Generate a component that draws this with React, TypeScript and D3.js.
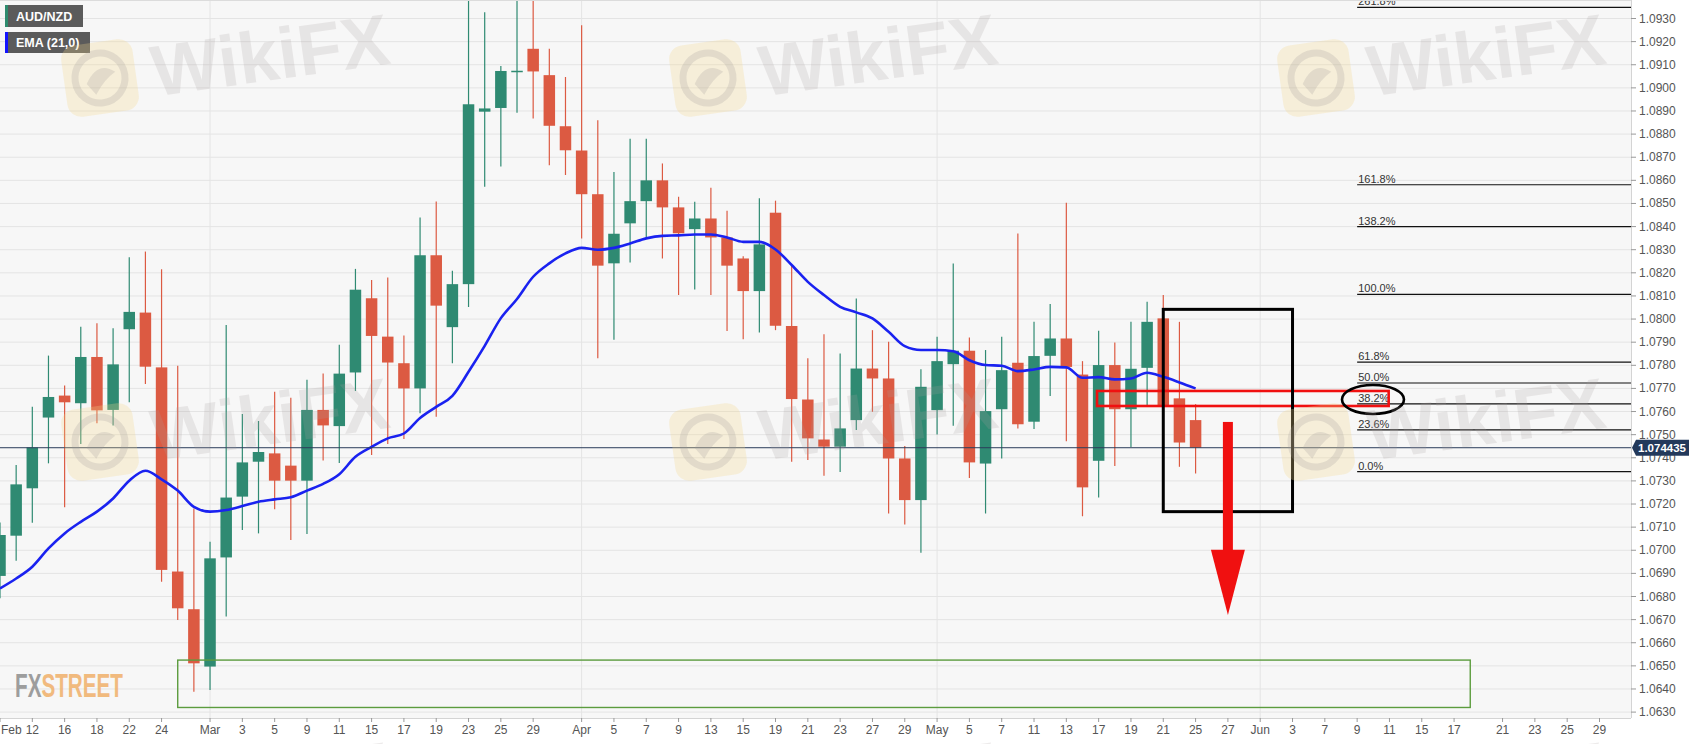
import React, { useEffect } from 'react';
import * as d3 from 'd3';

const W = 1707;
const H = 744;
const PLOT_RIGHT = 1631;
const PLOT_BOTTOM = 718;

// daily candles, trading-day index 0 = Feb 10
const opens = [
  1.06889, 1.07063, 1.07268, 1.07574, 1.07669, 1.07636, 1.07836, 1.07607, 1.07956, 1.08028,
  1.07791, 1.06908, 1.06745, 1.06497, 1.06969, 1.07232, 1.07383, 1.07419, 1.07366, 1.07301,
  1.07607, 1.07537, 1.07769, 1.08090, 1.07924, 1.07809, 1.07700, 1.08276, 1.07965, 1.08151,
  1.08897, 1.08913, 1.09071, 1.09169, 1.09055, 1.08834, 1.08729, 1.08540, 1.08241, 1.08414,
  1.08510, 1.08600, 1.08483, 1.08389, 1.08435, 1.08353, 1.08262, 1.08121, 1.08460, 1.07970,
  1.07652, 1.07479, 1.07448, 1.07563, 1.07786, 1.07743, 1.07397, 1.07217, 1.07606, 1.07805,
  1.07863, 1.07375, 1.07610, 1.07811, 1.07556, 1.07841, 1.07916, 1.07760, 1.07387, 1.07801,
  1.07610, 1.07789, 1.08003, 1.07657, 1.07563,
];
const highs = [
  1.07120, 1.07369, 1.07621, 1.07842, 1.07713, 1.07967, 1.07982, 1.07960, 1.08267, 1.08292,
  1.08215, 1.07798, 1.07181, 1.07037, 1.07974, 1.07589, 1.07559, 1.07686, 1.07660, 1.07737,
  1.07764, 1.07889, 1.08217, 1.08169, 1.08180, 1.07929, 1.08439, 1.08508, 1.08209, 1.09500,
  1.09327, 1.09095, 1.09500, 1.09500, 1.09169, 1.09047, 1.09271, 1.08860, 1.08636, 1.08780,
  1.08780, 1.08673, 1.08529, 1.08507, 1.08568, 1.08469, 1.08272, 1.08522, 1.08512, 1.08234,
  1.07830, 1.07934, 1.07851, 1.08089, 1.07952, 1.07902, 1.07451, 1.07783, 1.07923, 1.08240,
  1.07920, 1.07866, 1.07923, 1.08370, 1.07988, 1.08065, 1.08503, 1.07818, 1.07949, 1.07899,
  1.07988, 1.08075, 1.08104, 1.07988, 1.07632,
];
const lows = [
  1.06792, 1.06955, 1.07119, 1.07376, 1.07186, 1.07460, 1.07549, 1.07540, 1.07640, 1.07719,
  1.06864, 1.06698, 1.06388, 1.06396, 1.06713, 1.07088, 1.07073, 1.07177, 1.07044, 1.07070,
  1.07388, 1.07377, 1.07689, 1.07412, 1.07460, 1.07481, 1.07593, 1.07577, 1.07809, 1.08052,
  1.08572, 1.08660, 1.08892, 1.08868, 1.08665, 1.08623, 1.08348, 1.07831, 1.07911, 1.08245,
  1.08353, 1.08262, 1.08104, 1.08128, 1.08104, 1.07948, 1.07913, 1.07942, 1.07952, 1.07383,
  1.07390, 1.07322, 1.07339, 1.07520, 1.07599, 1.07159, 1.07111, 1.06989, 1.07501, 1.07538,
  1.07313, 1.07159, 1.07397, 1.07527, 1.07524, 1.07667, 1.07472, 1.07147, 1.07228, 1.07364,
  1.07447, 1.07628, 1.07620, 1.07361, 1.07332,
];
const closes = [
  1.07066, 1.07285, 1.07445, 1.07663, 1.07640, 1.07836, 1.07605, 1.07804, 1.08031, 1.07794,
  1.06915, 1.06749, 1.06511, 1.06965, 1.07228, 1.07380, 1.07425, 1.07301, 1.07301, 1.07607,
  1.07540, 1.07764, 1.08127, 1.07927, 1.07812, 1.07700, 1.08276, 1.08058, 1.08151, 1.08929,
  1.08911, 1.09073, 1.09074, 1.09071, 1.08836, 1.08730, 1.08540, 1.08231, 1.08369, 1.08510,
  1.08600, 1.08483, 1.08371, 1.08435, 1.08353, 1.08231, 1.08121, 1.08323, 1.07971, 1.07654,
  1.07484, 1.07448, 1.07527, 1.07786, 1.07743, 1.07397, 1.07217, 1.07707, 1.07818, 1.07863,
  1.07380, 1.07602, 1.07779, 1.07545, 1.07840, 1.07916, 1.07793, 1.07272, 1.07801, 1.07610,
  1.07785, 1.07988, 1.07628, 1.07466, 1.074435,
];
const emaValues = [
  1.06835, 1.06878, 1.06929, 1.07008, 1.07073, 1.07123, 1.07167, 1.07224, 1.07301, 1.07344,
  1.07307, 1.07258, 1.07188, 1.07167, 1.07174, 1.07191, 1.07210, 1.07220, 1.07229, 1.07258,
  1.07287, 1.07329, 1.07404, 1.07447, 1.07484, 1.07505, 1.07572, 1.07620, 1.07668, 1.07772,
  1.07884, 1.08004, 1.08087, 1.08183, 1.08241, 1.08284, 1.08308, 1.08300, 1.08308, 1.08327,
  1.08349, 1.08360, 1.08362, 1.08366, 1.08366, 1.08353, 1.08334, 1.08334, 1.08301, 1.08234,
  1.08161, 1.08104, 1.08053, 1.08029, 1.08003, 1.07945, 1.07883, 1.07866, 1.07866, 1.07861,
  1.07822, 1.07801, 1.07798, 1.07775, 1.07782, 1.07793, 1.07791, 1.07746, 1.07749, 1.07739,
  1.07743, 1.07768, 1.07750, 1.07726, 1.07700,
];

const lastPrice = 1.074435;
const lastPriceLabel = '1.074435';

const xTickLabels = [
  'Feb', '12', '16', '18', '22', '24', 'Mar', '3', '5', '9', '11', '15', '17', '19', '23', '25', '29',
  'Apr', '5', '7', '9', '13', '15', '19', '21', '23', '27', '29',
  'May', '5', '7', '11', '13', '17', '19', '21', '25', '27',
  'Jun', '3', '7', '9', '11', '15', '17', '21', '23', '25', '29',
];
const xTickIndex = [
  0, 2, 4, 6, 8, 10, 13, 15, 17, 19, 21, 23, 25, 27, 29, 31, 33,
  36, 38, 40, 42, 44, 46, 48, 50, 52, 54, 56,
  58, 60, 62, 64, 66, 68, 70, 72, 74, 76,
  78, 80, 82, 84, 86, 88, 90, 93, 95, 97, 99,
];
const monthStartIndex = [13, 36, 58, 78];

const yTicks = [
  1.063, 1.064, 1.065, 1.066, 1.067, 1.068, 1.069, 1.07, 1.071, 1.072, 1.073,
  1.074, 1.075, 1.076, 1.077, 1.078, 1.079, 1.08, 1.081, 1.082, 1.083,
  1.084, 1.085, 1.086, 1.087, 1.088, 1.089, 1.09, 1.091, 1.092, 1.093,
];

// Fibonacci retracement anchors
const fibLow = 1.0734;
const fibHigh = 1.08107;
const fibRatios = [0, 0.236, 0.382, 0.5, 0.618, 1, 1.382, 1.618, 2.618];
const fibLabels = ['0.0%', '23.6%', '38.2%', '50.0%', '61.8%', '100.0%', '138.2%', '161.8%', '261.8%'];
const fibStartIndex = 84.0;

// annotations (index / price)
const redBox = { i0: 67.9, i1: 85.95, p0: 1.07689, p1: 1.07624 };
const blackBox = { i0: 72, i1: 80, p0: 1.08042, p1: 1.07167 };
const greenBox = { i0: 11, i1: 91, p0: 1.06525, p1: 1.0632 };
const ellipse = { i: 84.98, p: 1.07652 };
const arrow = { i: 76, pTop: 1.07555, pHeadBase: 1.07002, pTip: 1.0672 };

const FONT = '"Liberation Sans", Arial, Helvetica, sans-serif';
const GREEN = '#2f8a72';
const RED = '#dc5a42';

const wmCols = [100, 708, 1316];
const wmRows = [78, 442, 806];

function Watermark({ cx, cy }: { cx: number; cy: number }) {
  return (
    <g transform={`rotate(-8 ${cx} ${cy})`}>
      <rect x={cx - 36} y={cy - 36} width={72} height={72} rx={14} fill="#f3d98c" opacity={0.28} />
      <circle cx={cx} cy={cy} r={25} fill="none" stroke="#9a9494" strokeWidth={7} opacity={0.22} />
      <path d={`M${cx - 14},${cy + 4} Q${cx},${cy - 18} ${cx + 16},${cy - 4} Q${cx + 4},${cy + 2} ${cx - 6},${cy + 16}`} fill="#9a9494" opacity={0.22} />
      <text x={cx + 52} y={cy + 26} fontFamily={FONT} fontWeight="bold" fontSize={72} fill="#a89f9f" opacity={0.2}>WikiFX</text>
    </g>
  );
}

export default function App() {
  useEffect(() => {
    document.body.style.margin = '0';
  }, []);

  const x = d3.scaleLinear().domain([0, 99]).range([0, 1599.5]);
  const y = d3.scaleLinear().domain([1.063, 1.093]).range([712.1, 18.5]);
  const bodyW = 11.5;

  const emaLine = d3
    .line<number>()
    .x((_, i) => x(i))
    .y((d) => y(d))
    .curve(d3.curveMonotoneX)(emaValues) || '';

  const fibPrices = fibRatios.map((r) => fibLow + r * (fibHigh - fibLow));
  const ax = x(arrow.i);

  return (
    <svg width={W} height={H} style={{ position: 'absolute', left: 0, top: 0, display: 'block', background: '#ffffff' }}>
      <defs>
        <clipPath id="plot">
          <rect x={0} y={0} width={PLOT_RIGHT} height={PLOT_BOTTOM} />
        </clipPath>
      </defs>
      <rect x={0} y={0} width={PLOT_RIGHT} height={PLOT_BOTTOM} fill="#f7f7f7" />
      <g clipPath="url(#plot)">
        {yTicks.map((t) => (
          <line key={t} x1={0} x2={PLOT_RIGHT} y1={y(t)} y2={y(t)} stroke="#e4e4e4" strokeWidth={1} />
        ))}
        {monthStartIndex.map((m) => (
          <line key={m} x1={x(m)} x2={x(m)} y1={0} y2={PLOT_BOTTOM} stroke="#e4e4e4" strokeWidth={1} />
        ))}
        {/* candles */}
        {opens.map((o, i) => {
          const c = closes[i];
          const up = c >= o;
          const col = up ? GREEN : RED;
          const cx = x(i);
          const top = y(Math.max(o, c));
          const bot = y(Math.min(o, c));
          return (
            <g key={i}>
              <line x1={cx} x2={cx} y1={y(highs[i])} y2={y(lows[i])} stroke={col} strokeWidth={1.2} />
              <rect x={cx - bodyW / 2} y={top} width={bodyW} height={Math.max(1.5, bot - top)} fill={col} />
            </g>
          );
        })}
        {/* EMA */}
        <path d={emaLine} fill="none" stroke="#1a22f0" strokeWidth={2.6} strokeLinejoin="round" />
        {/* last price line */}
        <line x1={0} x2={PLOT_RIGHT} y1={y(lastPrice)} y2={y(lastPrice)} stroke="#2b3d5a" strokeWidth={1} />
        {/* fibonacci */}
        {fibPrices.map((p, i) => (
          <g key={fibLabels[i]}>
            <line x1={x(fibStartIndex)} x2={PLOT_RIGHT} y1={y(p)} y2={y(p)} stroke="#111" strokeWidth={1.2} />
            <text x={x(fibStartIndex) + 1} y={y(p) - 2} fontFamily={FONT} fontSize={11} fill="#333">{fibLabels[i]}</text>
          </g>
        ))}
        {/* green zone */}
        <rect x={x(greenBox.i0)} y={y(greenBox.p0)} width={x(greenBox.i1) - x(greenBox.i0)} height={y(greenBox.p1) - y(greenBox.p0)} fill="none" stroke="#5c9c3e" strokeWidth={1.4} />
        {/* red box */}
        <rect x={x(redBox.i0)} y={y(redBox.p0)} width={x(redBox.i1) - x(redBox.i0)} height={y(redBox.p1) - y(redBox.p0)} fill="none" stroke="#f01010" strokeWidth={2.6} />
        {/* black box */}
        <rect x={x(blackBox.i0)} y={y(blackBox.p0)} width={x(blackBox.i1) - x(blackBox.i0)} height={y(blackBox.p1) - y(blackBox.p0)} fill="none" stroke="#000" strokeWidth={3} />
        {/* ellipse */}
        <ellipse cx={x(ellipse.i)} cy={y(ellipse.p)} rx={31} ry={14.5} fill="none" stroke="#000" strokeWidth={2.6} />
        {/* arrow */}
        <rect x={ax - 5} y={y(arrow.pTop)} width={10} height={y(arrow.pHeadBase) - y(arrow.pTop) + 1} fill="#f01010" />
        <path d={`M${ax - 17},${y(arrow.pHeadBase)} L${ax + 17},${y(arrow.pHeadBase)} L${ax},${y(arrow.pTip)} Z`} fill="#f01010" />
      </g>
      {/* axes */}
      <line x1={0} x2={PLOT_RIGHT} y1={0.5} y2={0.5} stroke="#dcdcdc" />
      <line x1={PLOT_RIGHT + 0.5} x2={PLOT_RIGHT + 0.5} y1={0} y2={PLOT_BOTTOM} stroke="#d4d4d4" />
      <line x1={0} x2={PLOT_RIGHT} y1={PLOT_BOTTOM + 0.5} y2={PLOT_BOTTOM + 0.5} stroke="#d4d4d4" />
      {yTicks.map((t) => (
        <g key={t}>
          <line x1={PLOT_RIGHT} x2={PLOT_RIGHT + 5} y1={y(t)} y2={y(t)} stroke="#999" />
          <text x={PLOT_RIGHT + 8} y={y(t) + 4} fontFamily={FONT} fontSize={12} fill="#555">{t.toFixed(4)}</text>
        </g>
      ))}
      {xTickLabels.map((l, i) => (
        <g key={i}>
          <line x1={x(xTickIndex[i])} x2={x(xTickIndex[i])} y1={PLOT_BOTTOM} y2={PLOT_BOTTOM + 4} stroke="#999" />
          <text
            x={i === 0 ? 1 : x(xTickIndex[i])}
            y={PLOT_BOTTOM + 16}
            textAnchor={i === 0 ? 'start' : 'middle'}
            fontFamily={FONT}
            fontSize={12}
            fill="#555"
          >{l}</text>
        </g>
      ))}
      {/* last price tag */}
      <path d={`M${PLOT_RIGHT + 1},${y(lastPrice)} L${PLOT_RIGHT + 5},${y(lastPrice) - 8} L${PLOT_RIGHT + 58},${y(lastPrice) - 8} L${PLOT_RIGHT + 58},${y(lastPrice) + 8} L${PLOT_RIGHT + 5},${y(lastPrice) + 8} Z`} fill="#23395b" />
      <text x={PLOT_RIGHT + 7} y={y(lastPrice) + 4} fontFamily={FONT} fontSize={11.5} fontWeight="bold" fill="#fff">{lastPriceLabel}</text>
      {/* legend */}
      <rect x={5} y={5} width={78} height={22} fill="#5b5b5b" />
      <rect x={5} y={5} width={3} height={22} fill="#2e8b6e" />
      <text x={16} y={21} fontFamily={FONT} fontSize={12.5} fontWeight="bold" fill="#fff">AUD/NZD</text>
      <rect x={5} y={32} width={85} height={21} fill="#5b5b5b" />
      <rect x={5} y={32} width={3} height={21} fill="#1414ff" />
      <text x={16} y={47} fontFamily={FONT} fontSize={12.5} fontWeight="bold" fill="#fff">EMA (21,0)</text>
      {/* FXStreet logo */}
      <text x={15} y={697} fontFamily={'"Liberation Sans Narrow", "Liberation Sans", Arial, sans-serif'} fontWeight="bold" fontSize={33} textLength={108} lengthAdjust="spacingAndGlyphs" opacity={0.85}>
        <tspan fill="#8e8e8e">FX</tspan>
        <tspan fill="#f0b06a">STREET</tspan>
      </text>
      {/* watermarks */}
      {wmRows.map((r) => wmCols.map((c) => <Watermark key={`${r}-${c}`} cx={c} cy={r} />))}
    </svg>
  );
}
